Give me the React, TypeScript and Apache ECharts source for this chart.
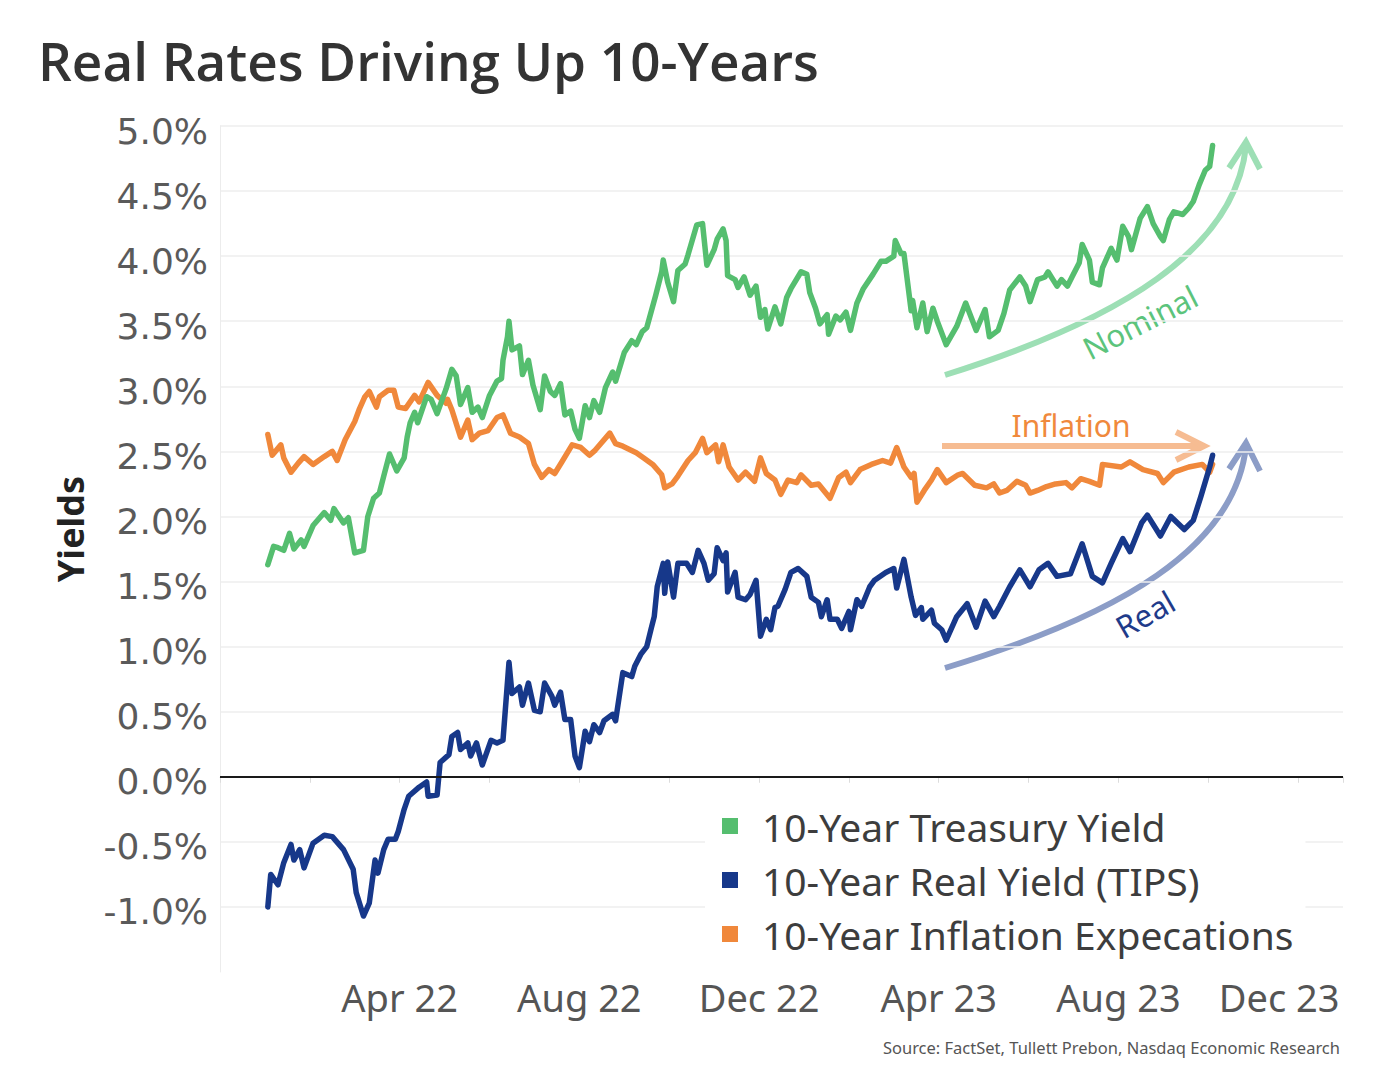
import React, { useEffect, useRef } from 'react';
import * as echarts from 'echarts';

// ---- 10-Year Treasury Yield (%) ----
const tnDates = [
  '2022-01-03','2022-01-07','2022-01-10','2022-01-14','2022-01-18','2022-01-21','2022-01-26','2022-01-28',
  '2022-02-03','2022-02-10','2022-02-14','2022-02-16','2022-02-22','2022-02-25','2022-03-01','2022-03-07',
  '2022-03-10','2022-03-14','2022-03-18','2022-03-21','2022-03-25','2022-03-30','2022-04-04','2022-04-06',
  '2022-04-08','2022-04-11','2022-04-13','2022-04-19','2022-04-22','2022-04-26','2022-05-02','2022-05-06',
  '2022-05-09','2022-05-12','2022-05-17','2022-05-20','2022-05-24','2022-05-27','2022-06-01','2022-06-06',
  '2022-06-09','2022-06-10','2022-06-13','2022-06-14','2022-06-16','2022-06-21','2022-06-23','2022-06-27',
  '2022-06-30','2022-07-05','2022-07-08','2022-07-12','2022-07-15','2022-07-19','2022-07-22','2022-07-26',
  '2022-07-29','2022-08-01','2022-08-05','2022-08-08','2022-08-11','2022-08-15','2022-08-19','2022-08-24',
  '2022-08-26','2022-09-01','2022-09-06','2022-09-09','2022-09-13','2022-09-16','2022-09-22','2022-09-26',
  '2022-09-27','2022-09-30','2022-10-04','2022-10-07','2022-10-12','2022-10-14','2022-10-20','2022-10-24',
  '2022-10-27','2022-11-01','2022-11-03','2022-11-07','2022-11-09','2022-11-10','2022-11-15','2022-11-17',
  '2022-11-21','2022-11-25','2022-11-29','2022-12-02','2022-12-05','2022-12-07','2022-12-12','2022-12-16',
  '2022-12-20','2022-12-23','2022-12-30','2023-01-03','2023-01-05','2023-01-09','2023-01-12','2023-01-17',
  '2023-01-18','2023-01-23','2023-01-26','2023-01-30','2023-02-02','2023-02-06','2023-02-10','2023-02-16',
  '2023-02-21','2023-02-24','2023-03-01','2023-03-02','2023-03-06','2023-03-08','2023-03-13','2023-03-14',
  '2023-03-17','2023-03-21','2023-03-24','2023-03-28','2023-03-31','2023-04-06','2023-04-13','2023-04-19',
  '2023-04-26','2023-05-02','2023-05-05','2023-05-11','2023-05-15','2023-05-19','2023-05-26','2023-05-30',
  '2023-06-02','2023-06-07','2023-06-12','2023-06-14','2023-06-20','2023-06-23','2023-06-27','2023-06-30',
  '2023-07-05','2023-07-07','2023-07-12','2023-07-14','2023-07-19','2023-07-21','2023-07-27','2023-07-31',
  '2023-08-04','2023-08-08','2023-08-10','2023-08-16','2023-08-21','2023-08-25','2023-08-30','2023-09-01',
  '2023-09-05','2023-09-08','2023-09-14','2023-09-18','2023-09-21','2023-09-25','2023-09-29','2023-10-02',
  '2023-10-04'
];
const tnValues = [
  1.63,1.77,1.76,1.74,1.87,1.75,1.82,1.77,
  1.93,2.03,1.97,2.06,1.95,1.99,1.72,1.74,
  2.00,2.14,2.18,2.31,2.48,2.35,2.45,2.61,
  2.72,2.80,2.72,2.92,2.90,2.79,2.98,3.13,
  3.08,2.86,2.99,2.80,2.84,2.76,2.93,3.04,
  3.06,3.20,3.38,3.50,3.28,3.31,3.09,3.20,
  3.01,2.82,3.08,2.96,2.93,3.02,2.78,2.81,
  2.67,2.60,2.85,2.76,2.89,2.80,2.99,3.11,
  3.04,3.26,3.35,3.32,3.42,3.45,3.70,3.88,
  3.97,3.80,3.65,3.89,3.94,4.01,4.24,4.25,
  3.93,4.05,4.13,4.21,4.12,3.85,3.82,3.76,
  3.84,3.70,3.77,3.53,3.59,3.44,3.61,3.48,
  3.68,3.75,3.88,3.86,3.72,3.60,3.48,3.55,
  3.40,3.54,3.51,3.57,3.43,3.64,3.75,3.86,
  3.96,3.96,4.00,4.12,4.02,4.02,3.58,3.66,
  3.45,3.64,3.42,3.60,3.50,3.32,3.46,3.64,
  3.43,3.59,3.38,3.43,3.56,3.74,3.84,3.77,
  3.65,3.82,3.84,3.88,3.77,3.82,3.77,3.84,
  3.95,4.09,3.97,3.80,3.78,3.91,4.06,3.97,
  4.23,4.15,4.05,4.29,4.38,4.25,4.15,4.12,
  4.28,4.34,4.32,4.37,4.42,4.55,4.66,4.69,
  4.85
];

// ---- 10-Year Real Yield (TIPS) (%) ----
const realDates = [
  '2022-01-03','2022-01-05','2022-01-10','2022-01-14','2022-01-19','2022-01-21','2022-01-25','2022-01-28',
  '2022-02-03','2022-02-10','2022-02-15','2022-02-22','2022-02-28','2022-03-02','2022-03-07','2022-03-11',
  '2022-03-15','2022-03-17','2022-03-21','2022-03-24','2022-03-29','2022-03-31','2022-04-04','2022-04-07',
  '2022-04-14','2022-04-19','2022-04-20','2022-04-26','2022-04-28','2022-05-04','2022-05-06','2022-05-10',
  '2022-05-12','2022-05-17','2022-05-19','2022-05-23','2022-05-27','2022-06-02','2022-06-06','2022-06-10',
  '2022-06-14','2022-06-16','2022-06-21','2022-06-23','2022-06-27','2022-07-01','2022-07-05','2022-07-08',
  '2022-07-13','2022-07-15','2022-07-19','2022-07-22','2022-07-26','2022-07-29','2022-08-01','2022-08-05',
  '2022-08-08','2022-08-11','2022-08-15','2022-08-18','2022-08-24','2022-08-26','2022-08-31','2022-09-06',
  '2022-09-08','2022-09-12','2022-09-16','2022-09-19','2022-09-21','2022-09-23','2022-09-27','2022-09-28',
  '2022-09-30','2022-10-04','2022-10-07','2022-10-13','2022-10-17','2022-10-21','2022-10-25','2022-10-28',
  '2022-11-01','2022-11-03','2022-11-07','2022-11-09','2022-11-10','2022-11-15','2022-11-17','2022-11-22',
  '2022-11-25','2022-11-29','2022-12-02','2022-12-06','2022-12-09','2022-12-12','2022-12-14','2022-12-19',
  '2022-12-23','2022-12-28','2023-01-03','2023-01-06','2023-01-11','2023-01-13','2023-01-17','2023-01-19',
  '2023-01-24','2023-01-27','2023-02-01','2023-02-02','2023-02-06','2023-02-09','2023-02-14','2023-02-17',
  '2023-02-24','2023-03-01','2023-03-03','2023-03-08','2023-03-13','2023-03-16','2023-03-20','2023-03-21',
  '2023-03-27','2023-03-29','2023-04-03','2023-04-06','2023-04-13','2023-04-20','2023-04-26','2023-05-02',
  '2023-05-08','2023-05-12','2023-05-19','2023-05-26','2023-06-02','2023-06-08','2023-06-14','2023-06-20',
  '2023-06-29','2023-07-07','2023-07-14','2023-07-21','2023-07-27','2023-08-04','2023-08-09','2023-08-17',
  '2023-08-21','2023-08-30','2023-09-06','2023-09-15','2023-09-21','2023-09-26','2023-10-02','2023-10-04'
];
const realValues = [
  -1.00,-0.75,-0.83,-0.66,-0.52,-0.64,-0.56,-0.70,
  -0.51,-0.45,-0.46,-0.56,-0.71,-0.89,-1.07,-0.97,
  -0.64,-0.74,-0.56,-0.48,-0.48,-0.42,-0.25,-0.15,
  -0.08,-0.04,-0.15,-0.14,0.11,0.17,0.31,0.34,
  0.21,0.26,0.16,0.26,0.09,0.28,0.26,0.28,
  0.88,0.64,0.69,0.55,0.72,0.51,0.50,0.72,
  0.62,0.55,0.65,0.44,0.44,0.16,0.07,0.35,
  0.27,0.40,0.34,0.43,0.48,0.43,0.80,0.77,
  0.85,0.94,1.00,1.14,1.23,1.46,1.64,1.41,
  1.65,1.38,1.64,1.64,1.57,1.74,1.64,1.51,
  1.56,1.76,1.66,1.72,1.42,1.57,1.38,1.36,
  1.40,1.51,1.08,1.21,1.13,1.30,1.31,1.44,
  1.57,1.60,1.54,1.38,1.34,1.23,1.36,1.21,
  1.21,1.14,1.27,1.13,1.36,1.31,1.46,1.51,
  1.57,1.60,1.45,1.67,1.38,1.24,1.30,1.21,
  1.28,1.18,1.13,1.05,1.23,1.33,1.15,1.35,
  1.23,1.31,1.46,1.59,1.46,1.59,1.64,1.54,
  1.56,1.79,1.54,1.49,1.64,1.83,1.73,1.95,
  2.01,1.85,2.00,1.90,1.97,2.15,2.38,2.47
];

// ---- 10-Year Inflation Expectations (breakeven, %) ----
const beDates = [
  '2022-01-03','2022-01-06','2022-01-12','2022-01-14','2022-01-19','2022-01-24','2022-01-28','2022-02-03',
  '2022-02-10','2022-02-15','2022-02-18','2022-02-23','2022-03-01','2022-03-04','2022-03-08','2022-03-11',
  '2022-03-16','2022-03-18','2022-03-24','2022-03-28','2022-03-31','2022-04-05','2022-04-11','2022-04-14',
  '2022-04-20','2022-04-26','2022-05-02','2022-05-03','2022-05-06','2022-05-12','2022-05-17','2022-05-20',
  '2022-05-25','2022-05-31','2022-06-06','2022-06-10','2022-06-15','2022-06-21','2022-06-27','2022-07-01',
  '2022-07-06','2022-07-11','2022-07-15','2022-07-20','2022-07-27','2022-08-02','2022-08-08','2022-08-12',
  '2022-08-22','2022-08-26','2022-08-31','2022-09-09','2022-09-14','2022-09-20','2022-09-26','2022-09-28',
  '2022-10-03','2022-10-07','2022-10-14','2022-10-19','2022-10-24','2022-10-27','2022-11-02','2022-11-04',
  '2022-11-07','2022-11-11','2022-11-17','2022-11-22','2022-11-28','2022-12-02','2022-12-06','2022-12-12',
  '2022-12-16','2022-12-21','2022-12-27','2022-12-30','2023-01-06','2023-01-11','2023-01-19','2023-01-25',
  '2023-01-30','2023-02-02','2023-02-08','2023-02-15','2023-02-22','2023-02-27','2023-03-03','2023-03-08',
  '2023-03-13','2023-03-15','2023-03-17','2023-03-22','2023-03-27','2023-03-31','2023-04-06','2023-04-14',
  '2023-04-17','2023-04-25','2023-05-03','2023-05-08','2023-05-12','2023-05-17','2023-05-24','2023-05-30',
  '2023-06-02','2023-06-07','2023-06-13','2023-06-19','2023-06-26','2023-06-30','2023-07-06','2023-07-12',
  '2023-07-19','2023-07-21','2023-08-03','2023-08-09','2023-08-18','2023-08-28','2023-09-01','2023-09-08',
  '2023-09-18','2023-09-27','2023-10-02','2023-10-04'
];
const beValues = [
  2.63,2.47,2.55,2.45,2.34,2.41,2.46,2.40,
  2.46,2.50,2.43,2.59,2.73,2.82,2.92,2.96,
  2.84,2.92,2.97,2.97,2.84,2.83,2.93,2.88,
  3.03,2.93,2.87,2.90,2.82,2.61,2.74,2.59,
  2.64,2.66,2.76,2.78,2.64,2.61,2.56,2.40,
  2.30,2.36,2.33,2.42,2.55,2.53,2.47,2.51,
  2.64,2.56,2.54,2.49,2.45,2.40,2.32,2.22,
  2.25,2.31,2.43,2.49,2.60,2.49,2.55,2.42,
  2.55,2.38,2.28,2.34,2.27,2.45,2.33,2.28,
  2.17,2.28,2.26,2.32,2.24,2.25,2.14,2.30,
  2.34,2.26,2.36,2.40,2.43,2.41,2.53,2.38,
  2.30,2.33,2.11,2.20,2.28,2.36,2.26,2.32,
  2.33,2.24,2.22,2.25,2.18,2.20,2.27,2.24,
  2.18,2.20,2.23,2.25,2.26,2.22,2.29,2.27,
  2.24,2.40,2.38,2.42,2.36,2.33,2.26,2.34,
  2.38,2.40,2.34,2.40
];

// ---- axes ----
// x axis measured in months since 1 Dec 2021
const xTickMonths = [4, 8, 12, 16, 20, 24];
const xTickLabels = ['Apr 22', 'Aug 22', 'Dec 22', 'Apr 23', 'Aug 23', 'Dec 23'];
const yMin = -1.5;
const yMax = 5.0;
const yStep = 0.5;

const seriesNames = ['10-Year Treasury Yield', '10-Year Real Yield (TIPS)', '10-Year Inflation Expecations'];
const GREEN = '#55be6f';
const NAVY = '#17388a';
const ORANGE = '#f0883b';

function toMonthIndex(d: string): number {
  const [y, m, day] = d.split('-').map(Number);
  const dim = new Date(Date.UTC(y, m, 0)).getUTCDate();
  return (y - 2021) * 12 + (m - 12) + (day - 1) / dim;
}

function pairs(dates: string[], vals: number[]) {
  return dates.map((d, i) => [toMonthIndex(d), vals[i]]);
}

export default function App() {
  const ref = useRef<HTMLDivElement>(null);
  useEffect(() => {
    if (!ref.current) return;
    const chart = echarts.init(ref.current, null, { renderer: 'svg' });
    const labelFont = 'Noto Sans';
    const lineCommon = {
      type: 'line',
      showSymbol: false,
      symbol: 'none',
      silent: true,
      emphasis: { disabled: true },
    };
    const option: any = {
      animation: false,
      backgroundColor: '#ffffff',
      grid: { left: 220, right: 39, top: 126, bottom: 108 },
      xAxis: {
        type: 'value',
        min: 0,
        max: 25,
        interval: 2,
        axisLine: { show: true, lineStyle: { color: '#e4e4e4', width: 1 } },
        axisTick: { show: true, length: 6, lineStyle: { color: '#dcdcdc' } },
        splitLine: { show: false },
        axisLabel: {
          margin: 6,
          fontFamily: labelFont,
          fontSize: 38,
          color: '#555555',
          formatter: (v: number) => {
            const i = xTickMonths.indexOf(v);
            if (i < 0) return '';
            if (i === xTickMonths.length - 1) return '{r|' + xTickLabels[i] + '}';
            return xTickLabels[i];
          },
          rich: {
            r: { fontFamily: labelFont, fontSize: 38, color: '#555555', padding: [0, 38, 0, 0] },
          },
        },
      },
      yAxis: {
        type: 'value',
        min: yMin,
        max: yMax,
        interval: yStep,
        name: 'Yields',
        nameLocation: 'middle',
        nameGap: 132,
        nameTextStyle: {
          fontFamily: labelFont,
          fontWeight: 'bold',
          fontSize: 36,
          color: '#222222',
          padding: [0, 0, 0, 40],
        },
        axisLine: { show: true, lineStyle: { color: '#ececec', width: 1 } },
        axisTick: { show: false },
        axisLabel: {
          margin: 12,
          fontFamily: 'DejaVu Sans',
          fontSize: 36,
          color: '#5a5a5a',
          showMinLabel: false,
          formatter: (v: number) => (v <= yMin ? '' : '{a|' + v.toFixed(1) + '%}'),
          rich: {
            a: { fontFamily: 'DejaVu Sans', fontSize: 36, color: '#5a5a5a', padding: [10, 0, 0, 0] },
          },
        },
        splitLine: { show: true, showMinLine: false, lineStyle: { color: '#eeeeee', width: 1.5 } },
      },
      legend: {
        orient: 'vertical',
        left: 705,
        top: 789,
        data: seriesNames,
        icon: 'rect',
        itemWidth: 16,
        itemHeight: 16,
        itemGap: 0,
        selectedMode: false,
        backgroundColor: '#ffffff',
        padding: [10, 12, 0, 17],
        textStyle: {
          fontFamily: labelFont,
          fontSize: 39,
          color: '#3d3d3d',
          lineHeight: 54,
          padding: [0, 0, 0, 19],
        },
      },
      series: [
        {
          ...lineCommon,
          name: seriesNames[2],
          data: pairs(beDates, beValues),
          lineStyle: { color: ORANGE, width: 5.5, join: 'round', cap: 'round' },
          itemStyle: { color: ORANGE },
          markLine: {
            silent: true,
            symbol: 'none',
            label: { show: false },
            lineStyle: { color: '#1a1a1a', width: 2, type: 'solid' },
            data: [{ yAxis: 0 }],
          },
        },
        {
          ...lineCommon,
          name: seriesNames[0],
          data: pairs(tnDates, tnValues),
          lineStyle: { color: GREEN, width: 5.5, join: 'round', cap: 'round' },
          itemStyle: { color: GREEN },
        },
        {
          ...lineCommon,
          name: seriesNames[1],
          data: pairs(realDates, realValues),
          lineStyle: { color: NAVY, width: 5.5, join: 'round', cap: 'round' },
          itemStyle: { color: NAVY },
        },
      ],
      graphic: [
        {
          type: 'text',
          x: 38,
          y: 60,
          style: {
            text: 'Real Rates Driving Up 10-Years',
            fontFamily: 'Open Sans',
            fontWeight: 600,
            fontSize: 53,
            fill: '#333333',
            align: 'left',
            verticalAlign: 'middle',
          },
        },
        // Nominal arrow
        {
          type: 'bezierCurve',
          shape: { x1: 945, y1: 375, cpx1: 1120, cpy1: 320, cpx2: 1235, cpy2: 250, x2: 1246, y2: 146 },
          style: { stroke: '#9ddfb5', lineWidth: 6, fill: null },
        },
        {
          type: 'polyline',
          shape: { points: [[1229, 168], [1246, 142], [1260, 169]] },
          style: { stroke: '#9ddfb5', lineWidth: 6, fill: null },
        },
        {
          type: 'text',
          x: 1140,
          y: 322,
          rotation: 0.47,
          style: {
            text: 'Nominal',
            fontFamily: labelFont,
            fontSize: 31,
            fill: '#5cc47c',
            align: 'center',
            verticalAlign: 'middle',
          },
        },
        // Inflation arrow
        {
          type: 'line',
          shape: { x1: 942, y1: 446, x2: 1203, y2: 446 },
          style: { stroke: '#f6bc92', lineWidth: 6 },
        },
        {
          type: 'polyline',
          shape: { points: [[1176, 432], [1204, 446], [1176, 460]] },
          style: { stroke: '#f6bc92', lineWidth: 6, fill: null },
        },
        {
          type: 'text',
          x: 1071,
          y: 425,
          style: {
            text: 'Inflation',
            fontFamily: labelFont,
            fontSize: 30,
            fill: '#f0893c',
            align: 'center',
            verticalAlign: 'middle',
          },
        },
        // Real arrow
        {
          type: 'bezierCurve',
          shape: { x1: 945, y1: 668, cpx1: 1120, cpy1: 615, cpx2: 1235, cpy2: 548, x2: 1246, y2: 446 },
          style: { stroke: '#8c9dc7', lineWidth: 6, fill: null },
        },
        {
          type: 'polyline',
          shape: { points: [[1229, 469], [1246, 443], [1260, 471]] },
          style: { stroke: '#8c9dc7', lineWidth: 6, fill: null },
        },
        {
          type: 'text',
          x: 1145,
          y: 614,
          rotation: 0.52,
          style: {
            text: 'Real',
            fontFamily: labelFont,
            fontSize: 31,
            fill: '#1f3b8a',
            align: 'center',
            verticalAlign: 'middle',
          },
        },
        {
          type: 'text',
          x: 1340,
          y: 1047,
          style: {
            text: 'Source: FactSet, Tullett Prebon, Nasdaq Economic Research',
            fontFamily: labelFont,
            fontSize: 16.5,
            fill: '#555555',
            align: 'right',
            verticalAlign: 'middle',
          },
        },
      ],
    };
    chart.setOption(option);
    return () => chart.dispose();
  }, []);
  return (
    <div
      ref={ref}
      style={{ position: 'absolute', left: 0, top: 0, width: 1382, height: 1080, background: '#fff' }}
    />
  );
}
